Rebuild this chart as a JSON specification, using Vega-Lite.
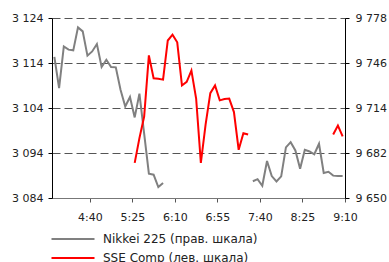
{
  "$schema": "https://vega.github.io/schema/vega-lite/v6.json",
  "width": 293,
  "height": 180,
  "autosize": "none",
  "padding": {"left": 52, "top": 18, "right": 44, "bottom": 64},
  "config": {
    "view": {"stroke": null},
    "font": "DejaVu Sans",
    "axis": {"labelFont": "DejaVu Sans", "labelFontSize": 11, "labelColor": "#222222", "title": null, "labelFlush": false, "labelOverlap": false}
  },
  "datasets": {
    "nikkei": [
      {"time": "2024-01-01T04:00", "value": 9750.3, "part": 1},
      {"time": "2024-01-01T04:05", "value": 9728.2, "part": 1},
      {"time": "2024-01-01T04:10", "value": 9757.8, "part": 1},
      {"time": "2024-01-01T04:15", "value": 9755.5, "part": 1},
      {"time": "2024-01-01T04:20", "value": 9755.0, "part": 1},
      {"time": "2024-01-01T04:25", "value": 9771.3, "part": 1},
      {"time": "2024-01-01T04:30", "value": 9768.5, "part": 1},
      {"time": "2024-01-01T04:35", "value": 9751.2, "part": 1},
      {"time": "2024-01-01T04:40", "value": 9754.2, "part": 1},
      {"time": "2024-01-01T04:45", "value": 9759.5, "part": 1},
      {"time": "2024-01-01T04:50", "value": 9743.2, "part": 1},
      {"time": "2024-01-01T04:55", "value": 9748.3, "part": 1},
      {"time": "2024-01-01T05:00", "value": 9743.2, "part": 1},
      {"time": "2024-01-01T05:05", "value": 9742.9, "part": 1},
      {"time": "2024-01-01T05:10", "value": 9727.0, "part": 1},
      {"time": "2024-01-01T05:15", "value": 9715.1, "part": 1},
      {"time": "2024-01-01T05:20", "value": 9721.8, "part": 1},
      {"time": "2024-01-01T05:25", "value": 9707.3, "part": 1},
      {"time": "2024-01-01T05:30", "value": 9724.2, "part": 1},
      {"time": "2024-01-01T05:35", "value": 9695.7, "part": 1},
      {"time": "2024-01-01T05:40", "value": 9667.3, "part": 1},
      {"time": "2024-01-01T05:45", "value": 9666.6, "part": 1},
      {"time": "2024-01-01T05:50", "value": 9657.8, "part": 1},
      {"time": "2024-01-01T05:55", "value": 9660.7, "part": 1},
      {"time": "2024-01-01T07:30", "value": 9661.9, "part": 2},
      {"time": "2024-01-01T07:35", "value": 9663.4, "part": 2},
      {"time": "2024-01-01T07:40", "value": 9658.7, "part": 2},
      {"time": "2024-01-01T07:45", "value": 9676.3, "part": 2},
      {"time": "2024-01-01T07:50", "value": 9665.6, "part": 2},
      {"time": "2024-01-01T07:55", "value": 9661.8, "part": 2},
      {"time": "2024-01-01T08:00", "value": 9665.4, "part": 2},
      {"time": "2024-01-01T08:05", "value": 9686.0, "part": 2},
      {"time": "2024-01-01T08:10", "value": 9689.7, "part": 2},
      {"time": "2024-01-01T08:15", "value": 9683.8, "part": 2},
      {"time": "2024-01-01T08:20", "value": 9670.8, "part": 2},
      {"time": "2024-01-01T08:25", "value": 9684.3, "part": 2},
      {"time": "2024-01-01T08:30", "value": 9683.1, "part": 2},
      {"time": "2024-01-01T08:35", "value": 9681.1, "part": 2},
      {"time": "2024-01-01T08:40", "value": 9688.6, "part": 2},
      {"time": "2024-01-01T08:45", "value": 9667.8, "part": 2},
      {"time": "2024-01-01T08:50", "value": 9668.6, "part": 2},
      {"time": "2024-01-01T08:55", "value": 9665.9, "part": 2},
      {"time": "2024-01-01T09:00", "value": 9665.7, "part": 2},
      {"time": "2024-01-01T09:05", "value": 9665.6, "part": 2}
    ],
    "sse": [
      {"time": "2024-01-01T05:25", "value": 3091.8, "part": 1},
      {"time": "2024-01-01T05:30", "value": 3097.3, "part": 1},
      {"time": "2024-01-01T05:35", "value": 3102.1, "part": 1},
      {"time": "2024-01-01T05:40", "value": 3115.7, "part": 1},
      {"time": "2024-01-01T05:45", "value": 3110.6, "part": 1},
      {"time": "2024-01-01T05:50", "value": 3110.5, "part": 1},
      {"time": "2024-01-01T05:55", "value": 3110.3, "part": 1},
      {"time": "2024-01-01T06:00", "value": 3119.0, "part": 1},
      {"time": "2024-01-01T06:05", "value": 3120.3, "part": 1},
      {"time": "2024-01-01T06:10", "value": 3118.6, "part": 1},
      {"time": "2024-01-01T06:15", "value": 3109.0, "part": 1},
      {"time": "2024-01-01T06:20", "value": 3109.8, "part": 1},
      {"time": "2024-01-01T06:25", "value": 3112.3, "part": 1},
      {"time": "2024-01-01T06:30", "value": 3106.1, "part": 1},
      {"time": "2024-01-01T06:35", "value": 3091.8, "part": 1},
      {"time": "2024-01-01T06:40", "value": 3100.3, "part": 1},
      {"time": "2024-01-01T06:45", "value": 3107.3, "part": 1},
      {"time": "2024-01-01T06:50", "value": 3109.0, "part": 1},
      {"time": "2024-01-01T06:55", "value": 3105.7, "part": 1},
      {"time": "2024-01-01T07:00", "value": 3106.0, "part": 1},
      {"time": "2024-01-01T07:05", "value": 3106.1, "part": 1},
      {"time": "2024-01-01T07:10", "value": 3103.1, "part": 1},
      {"time": "2024-01-01T07:15", "value": 3094.7, "part": 1},
      {"time": "2024-01-01T07:20", "value": 3098.4, "part": 1},
      {"time": "2024-01-01T07:25", "value": 3098.1, "part": 1},
      {"time": "2024-01-01T08:55", "value": 3098.1, "part": 2},
      {"time": "2024-01-01T09:00", "value": 3100.1, "part": 2},
      {"time": "2024-01-01T09:05", "value": 3097.7, "part": 2}
    ]
  },
  "layer": [
    {
      "data": {"name": "nikkei"},
      "mark": {"type": "line", "strokeWidth": 2},
      "encoding": {
        "x": {
          "field": "time",
          "type": "temporal",
          "scale": {
            "domain": [
              {"year": 2024, "month": 1, "date": 1, "hours": 3, "minutes": 57, "seconds": 30},
              {"year": 2024, "month": 1, "date": 1, "hours": 9, "minutes": 7, "seconds": 30}
            ],
            "nice": false
          },
          "axis": {
            "values": [
              {"year": 2024, "month": 1, "date": 1, "hours": 4, "minutes": 37, "seconds": 30},
              {"year": 2024, "month": 1, "date": 1, "hours": 5, "minutes": 22, "seconds": 30},
              {"year": 2024, "month": 1, "date": 1, "hours": 6, "minutes": 7, "seconds": 30},
              {"year": 2024, "month": 1, "date": 1, "hours": 6, "minutes": 52, "seconds": 30},
              {"year": 2024, "month": 1, "date": 1, "hours": 7, "minutes": 37, "seconds": 30},
              {"year": 2024, "month": 1, "date": 1, "hours": 8, "minutes": 22, "seconds": 30},
              {"year": 2024, "month": 1, "date": 1, "hours": 9, "minutes": 7, "seconds": 30}
            ],
            "labelExpr": "timeFormat(time(datum.value) + 150000, '%-H:%M')",
            "grid": false,
            "domainColor": "#777777",
            "tickColor": "#555555",
            "tickSize": 4,
            "labelPadding": 9
          }
        },
        "y": {
          "field": "value",
          "type": "quantitative",
          "scale": {"domain": [9650, 9778], "nice": false, "zero": false},
          "axis": {
            "orient": "right",
            "values": [9650, 9682, 9714, 9746, 9778],
            "labelExpr": "replace(format(datum.value, ','), ',', ' ')",
            "grid": false,
            "domainColor": "#000000",
            "tickColor": "#000000",
            "tickSize": 4,
            "labelPadding": 6
          }
        },
        "detail": {"field": "part", "type": "nominal"},
        "color": {
          "datum": "Nikkei 225 (прав. шкала)",
          "type": "nominal",
          "scale": {
            "domain": ["Nikkei 225 (прав. шкала)", "SSE Comp (лев. шкала)"],
            "range": ["#808080", "#ff0000"]
          },
          "legend": {
            "orient": "none",
            "legendX": 15,
            "legendY": 215,
            "direction": "vertical",
            "title": null,
            "padding": 0,
            "symbolType": "M-5,0H5",
            "symbolSize": 74,
            "symbolStrokeWidth": 2,
            "labelFont": "DejaVu Sans",
            "labelFontSize": 12,
            "labelColor": "#222222",
            "labelOffset": 24,
            "rowPadding": 7
          }
        }
      }
    },
    {
      "data": {"name": "sse"},
      "mark": {"type": "line", "strokeWidth": 2},
      "encoding": {
        "x": {"field": "time", "type": "temporal"},
        "y": {
          "field": "value",
          "type": "quantitative",
          "scale": {"domain": [3084, 3124], "nice": false, "zero": false},
          "axis": {
            "orient": "left",
            "values": [3084, 3094, 3104, 3114, 3124],
            "labelExpr": "replace(format(datum.value, ','), ',', ' ')",
            "grid": true,
            "gridDash": [8, 4],
            "gridColor": "#555555",
            "gridWidth": 1,
            "domainColor": "#000000",
            "tickColor": "#000000",
            "tickSize": 4,
            "labelPadding": 5
          }
        },
        "detail": {"field": "part", "type": "nominal"},
        "color": {"datum": "SSE Comp (лев. шкала)", "type": "nominal"}
      }
    }
  ],
  "resolve": {"scale": {"y": "independent"}}
}
